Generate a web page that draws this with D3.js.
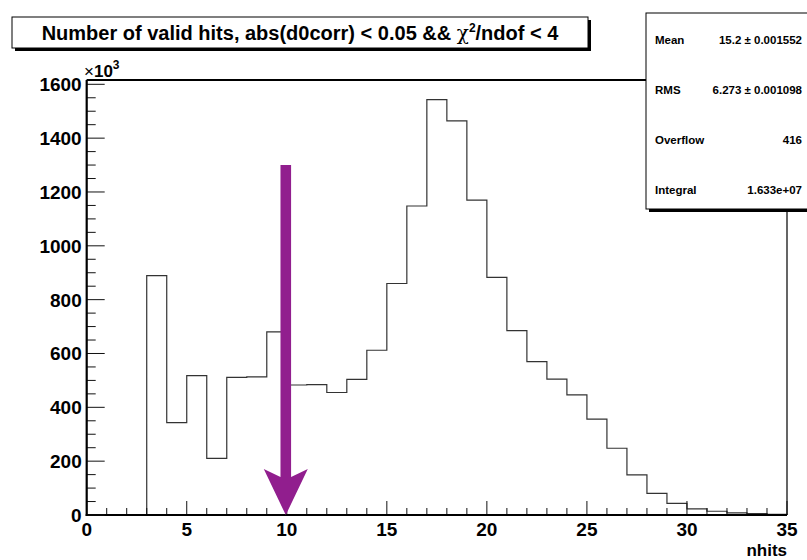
<!DOCTYPE html>
<html>
<head>
<meta charset="utf-8">
<script src="https://cdn.jsdelivr.net/npm/d3@7"></script>
<style>
  html, body { margin: 0; padding: 0; background: #fff; }
  svg { display: block; font-family: "Liberation Sans", Arial, Helvetica, sans-serif; }
</style>
</head>
<body>
<svg id="chart" width="807" height="560"></svg>
<script>
// Histogram of valid hits per track (counts in units of 10^3), one bin per hit count 0..34
const binLow = [0,1,2,3,4,5,6,7,8,9,10,11,12,13,14,15,16,17,18,19,20,21,22,23,24,25,26,27,28,29,30,31,32,33,34];
const counts = [0,0,0,889,343,518,210,511,513,680,483,484,455,504,612,860,1148,1543,1464,1170,883,685,570,505,446,356,248,149,80,43,23,14,8,5,2];
const xTicks = [0,5,10,15,20,25,30,35];
const yTicks = [0,200,400,600,800,1000,1200,1400,1600];
const cutValue = 10;        // arrow position (nhits)
const arrowTop = 1300;      // arrow start, ×10^3
const statNames = ["Mean", "RMS", "Overflow", "Integral"];
const statValues = ["15.2 \u00b1 0.001552", "6.273 \u00b1 0.001098", "416", "1.633e+07"];
const titleText = "Number of valid hits, abs(d0corr) < 0.05 && ";

const svg = d3.select("#chart");
const frame = { left: 86.7, right: 787, top: 80, bottom: 515 };

const x = d3.scaleLinear().domain([0, 35]).range([frame.left, frame.right]);
const y = d3.scaleLinear().domain([0, 1616]).range([frame.bottom, frame.top]);

// frame outline (top and right)
svg.append("path")
  .attr("d", `M${frame.left},${frame.top}H${frame.right}V${frame.bottom}`)
  .attr("fill", "none").attr("stroke", "#000").attr("stroke-width", 1.2);
svg.append("line")
  .attr("x1", frame.left).attr("x2", 646).attr("y1", frame.top).attr("y2", frame.top)
  .attr("stroke", "#000").attr("stroke-width", 2);

// histogram outline as a step path
const step = d3.path();
step.moveTo(x(binLow[0]), y(0));
binLow.forEach((b, i) => {
  step.lineTo(x(b), y(counts[i]));
  step.lineTo(x(b + 1), y(counts[i]));
});
step.lineTo(x(35), y(0));
svg.append("path")
  .attr("d", step.toString())
  .attr("fill", "none").attr("stroke", "#333").attr("stroke-width", 1.2);

// x axis: ticks drawn upward inside the frame
const xMinor = d3.range(0, 36, 1);
const xAxis = svg.append("g").attr("transform", `translate(0,${frame.bottom})`);
xAxis.selectAll("line.minor").data(xMinor).join("line")
  .attr("x1", d => x(d)).attr("x2", d => x(d))
  .attr("y1", 0).attr("y2", d => (d % 5 === 0 ? -14 : -7))
  .attr("stroke", "#111").attr("stroke-width", 1);
xAxis.append("line").attr("x1", frame.left - 1).attr("x2", frame.right)
  .attr("y1", 0).attr("y2", 0).attr("stroke", "#000").attr("stroke-width", 2.2);
xAxis.selectAll("text").data(xTicks).join("text")
  .attr("x", d => x(d)).attr("y", 21)
  .attr("text-anchor", "middle")
  .attr("font-size", 19).attr("font-weight", "bold")
  .text(d => d);
svg.append("text")
  .attr("x", frame.right).attr("y", 556)
  .attr("text-anchor", "end")
  .attr("font-size", 17).attr("font-weight", "bold")
  .text("nhits");

// y axis: ticks drawn rightward inside the frame
const yMinor = d3.range(0, 1601, 50);
const yAxis = svg.append("g").attr("transform", `translate(${frame.left},0)`);
yAxis.selectAll("line.minor").data(yMinor).join("line")
  .attr("x1", 0).attr("x2", d => (d % 200 === 0 ? 18 : 9))
  .attr("y1", d => y(d)).attr("y2", d => y(d))
  .attr("stroke", "#111").attr("stroke-width", 1);
yAxis.append("line").attr("x1", 0).attr("x2", 0)
  .attr("y1", frame.top).attr("y2", frame.bottom + 1)
  .attr("stroke", "#000").attr("stroke-width", 2.2);
yAxis.selectAll("text").data(yTicks).join("text")
  .attr("x", -5).attr("y", d => y(d) + 7)
  .attr("text-anchor", "end")
  .attr("font-size", 19).attr("font-weight", "bold")
  .text(d => d);

// exponent label
const expo = svg.append("text").attr("x", 84).attr("y", 77)
  .attr("font-size", 17).attr("font-weight", "bold");
expo.append("tspan").attr("font-weight", "normal").text("\u00d7");
expo.append("tspan").text("10");
expo.append("tspan").attr("dy", -8).attr("font-size", 12).text("3");

// cut arrow at nhits = 10
const ax = x(cutValue) - 1;
const yTip = y(0), yStart = y(arrowTop);
svg.append("path")
  .attr("d", [
    `M${ax - 5.3},${yStart}`,
    `L${ax + 5.3},${yStart}`,
    `L${ax + 5.3},${yTip - 38}`,
    `L${ax + 22},${yTip - 46}`,
    `L${ax},${yTip}`,
    `L${ax - 22},${yTip - 46}`,
    `L${ax - 5.3},${yTip - 38}`,
    "Z"].join(""))
  .attr("fill", "#911e8e");

// title box with shadow
svg.append("rect").attr("x", 15).attr("y", 20).attr("width", 576).attr("height", 31).attr("fill", "#000");
svg.append("rect").attr("x", 12).attr("y", 17).attr("width", 576).attr("height", 31)
  .attr("fill", "#fff").attr("stroke", "#000").attr("stroke-width", 1);
const title = svg.append("text").attr("x", 300).attr("y", 39.5)
  .attr("text-anchor", "middle").attr("font-size", 20).attr("font-weight", "bold");
title.append("tspan").text(titleText);
title.append("tspan").attr("font-family", "DejaVu Serif, serif").attr("font-weight", "normal").text("\u03c7");
title.append("tspan").attr("dy", -8).attr("font-size", 12).text("2");
title.append("tspan").attr("dy", 8).text("/ndof < 4");

// statistics box with shadow
svg.append("rect").attr("x", 649).attr("y", 16).attr("width", 170).attr("height", 196).attr("fill", "#000");
svg.append("rect").attr("x", 646).attr("y", 13).attr("width", 170).attr("height", 196)
  .attr("fill", "#fff").attr("stroke", "#000").attr("stroke-width", 1);
const rowY = d3.scalePoint().domain(statNames).range([44, 194]);
svg.selectAll("text.statName").data(statNames).join("text")
  .attr("class", "statName")
  .attr("x", 655).attr("y", d => rowY(d))
  .attr("font-size", 11.5).attr("font-weight", "bold")
  .text(d => d);
svg.selectAll("text.statValue").data(statValues).join("text")
  .attr("class", "statValue")
  .attr("x", 802).attr("y", (d, i) => rowY(statNames[i]))
  .attr("text-anchor", "end")
  .attr("font-size", 11.5).attr("font-weight", "bold")
  .text(d => d);
</script>
</body>
</html>
